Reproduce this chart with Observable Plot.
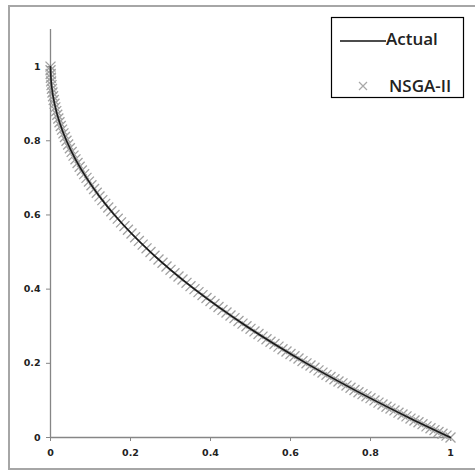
<!DOCTYPE html>
<html>
<head>
<meta charset="utf-8">
<script src="https://cdn.jsdelivr.net/npm/d3@7"></script>
<script src="https://cdn.jsdelivr.net/npm/@observablehq/plot@0.6"></script>
<style>
  html, body { margin: 0; padding: 0; background: #fff; overflow: hidden; }
  #wrap { position: relative; width: 475px; height: 476px; overflow: hidden; }
  #border { position: absolute; left: 8px; top: 5px; width: 480px; height: 465px; border: 2px solid #a6a6a6; box-sizing: border-box; }
  #chart { position: absolute; left: 0; top: 0; }
  #legend { position: absolute; left: 0; top: 0; }
  #chart [aria-label$="tick"] path, #chart [aria-label$="tick"] { stroke: #868686; }
</style>
</head>
<body>
<div id="wrap">
  <div id="border"></div>
  <div id="chart"></div>
  <svg id="legend" width="475" height="476">
    <rect x="331.5" y="17.5" width="132" height="80" fill="#fff" stroke="#000" stroke-width="1.2"></rect>
    <line x1="340" x2="386" y1="41" y2="41" stroke="#111" stroke-width="1.4"></line>
    <text x="386" y="45" font-family="Open Sans" font-size="17" font-weight="600" fill="#222">Actual</text>
    <path d="M359,82L367,90M367,82L359,90" stroke="#a8a8a8" stroke-width="1.2" fill="none"></path>
    <text x="389" y="92" font-family="Open Sans" font-size="17" font-weight="600" fill="#222">NSGA-II</text>
  </svg>
</div>
<script>
// Axis ticks
const xTicks = [0, 0.2, 0.4, 0.6, 0.8, 1];
const yTicks = [0, 0.2, 0.4, 0.6, 0.8, 1];

// "Actual" front
const actualX = [0, 0.0025, 0.01, 0.0225, 0.04, 0.0625, 0.09, 0.1225, 0.16, 0.2025, 0.25, 0.3025, 0.36, 0.4225, 0.49, 0.5625, 0.64, 0.7225, 0.81, 0.9025, 1];
const actualY = [1, 0.95, 0.9, 0.85, 0.8, 0.75, 0.7, 0.65, 0.6, 0.55, 0.5, 0.45, 0.4, 0.35, 0.3, 0.25, 0.2, 0.15, 0.1, 0.05, 0];

// NSGA-II solutions
const nsgaX = [0, 0.0001, 0.0004, 0.0009, 0.0016, 0.0025, 0.0036, 0.0049, 0.0064, 0.0081,
  0.0100, 0.0121, 0.0144, 0.0169, 0.0196, 0.0225, 0.0256, 0.0289, 0.0324, 0.0361,
  0.0400, 0.0441, 0.0484, 0.0529, 0.0576, 0.0625, 0.0676, 0.0729, 0.0784, 0.0841,
  0.0900, 0.0961, 0.1024, 0.1089, 0.1156, 0.1225, 0.1296, 0.1369, 0.1444, 0.1521,
  0.1600, 0.1681, 0.1764, 0.1849, 0.1936, 0.2025, 0.2116, 0.2209, 0.2304, 0.2401, 0.2500,
  0.26, 0.27, 0.28, 0.29, 0.30, 0.31, 0.32, 0.33, 0.34, 0.35, 0.36, 0.37, 0.38, 0.39,
  0.40, 0.41, 0.42, 0.43, 0.44, 0.45, 0.46, 0.47, 0.48, 0.49, 0.50, 0.51, 0.52, 0.53,
  0.54, 0.55, 0.56, 0.57, 0.58, 0.59, 0.60, 0.61, 0.62, 0.63, 0.64, 0.65, 0.66, 0.67,
  0.68, 0.69, 0.70, 0.71, 0.72, 0.73, 0.74, 0.75, 0.76, 0.77, 0.78, 0.79, 0.80, 0.81,
  0.82, 0.83, 0.84, 0.85, 0.86, 0.87, 0.88, 0.89, 0.90, 0.91, 0.92, 0.93, 0.94, 0.95,
  0.96, 0.97, 0.98, 0.99, 1.00];
const nsgaY = [1, 0.99, 0.98, 0.97, 0.96, 0.95, 0.94, 0.93, 0.92, 0.91,
  0.90, 0.89, 0.88, 0.87, 0.86, 0.85, 0.84, 0.83, 0.82, 0.81,
  0.80, 0.79, 0.78, 0.77, 0.76, 0.75, 0.74, 0.73, 0.72, 0.71,
  0.70, 0.69, 0.68, 0.67, 0.66, 0.65, 0.64, 0.63, 0.62, 0.61,
  0.60, 0.59, 0.58, 0.57, 0.56, 0.55, 0.54, 0.53, 0.52, 0.51, 0.50,
  0.490, 0.480, 0.471, 0.461, 0.452, 0.443, 0.434, 0.426, 0.417, 0.408, 0.400, 0.392, 0.384, 0.376,
  0.368, 0.360, 0.352, 0.344, 0.337, 0.329, 0.322, 0.314, 0.307, 0.300, 0.293, 0.286, 0.279, 0.272,
  0.265, 0.258, 0.252, 0.245, 0.238, 0.232, 0.225, 0.219, 0.213, 0.206, 0.200, 0.194, 0.188, 0.181,
  0.175, 0.169, 0.163, 0.157, 0.151, 0.146, 0.140, 0.134, 0.128, 0.122, 0.117, 0.111, 0.106, 0.100,
  0.094, 0.089, 0.083, 0.078, 0.073, 0.067, 0.062, 0.057, 0.051, 0.046, 0.041, 0.036, 0.030, 0.025,
  0.020, 0.015, 0.010, 0.005, 0];

const actual = actualX.map((x, i) => ({x, y: actualY[i]}));
const nsga = nsgaX.map((x, i) => ({x, y: nsgaY[i]}));
const fmt = d => String(d);

const chart = Plot.plot({
  width: 475,
  height: 476,
  marginLeft: 50,
  marginRight: 25,
  marginTop: 29,
  marginBottom: 39,
  style: {fontFamily: "DejaVu Sans", fontSize: "9.5px", background: "transparent", color: "#222"},
  x: {domain: [0, 1]},
  y: {domain: [0, 1.1]},
  marks: [
    Plot.axisX(xTicks, {tickSize: 4, tickPadding: 8, tickFormat: fmt, label: null, fontWeight: "bold"}),
    Plot.axisY(yTicks, {tickSize: 4, tickPadding: 6, tickFormat: fmt, label: null, fontWeight: "bold"}),
    Plot.ruleX([0], {stroke: "#868686", strokeWidth: 1.3}),
    Plot.ruleY([0], {stroke: "#868686", strokeWidth: 1.3}),
    Plot.dot(nsga, {x: "x", y: "y", symbol: "times", r: 4.6, stroke: "#a0a0a0", strokeWidth: 1.3}),
    Plot.line(actual, {x: "x", y: "y", curve: "catmull-rom", stroke: "#1a1a1a", strokeWidth: 1.6})
  ]
});
document.getElementById("chart").appendChild(chart);
</script>
</body>
</html>
